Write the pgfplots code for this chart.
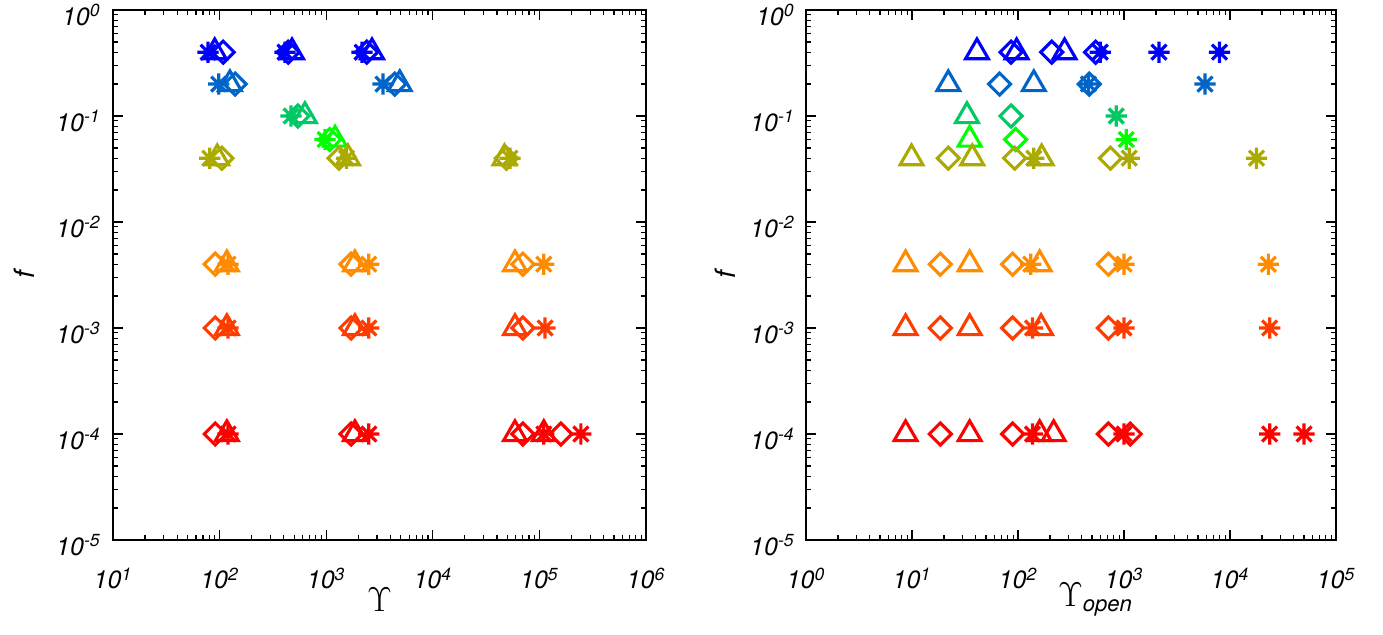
\documentclass[border=0pt]{standalone}
\usepackage{amsmath}
\usepackage{fontspec}
\setmainfont{TeX Gyre Heros}
\usepackage{pgfplots}
\pgfplotsset{compat=1.18}

\definecolor{c1}{RGB}{0,0,255}
\definecolor{c2}{RGB}{0,100,200}
\definecolor{c3}{RGB}{0,200,100}
\definecolor{c4}{RGB}{0,255,0}
\definecolor{c5}{RGB}{170,170,0}
\definecolor{c6}{RGB}{255,140,0}
\definecolor{c7}{RGB}{255,60,0}
\definecolor{c8}{RGB}{255,0,0}

\pgfdeclareplotmark{ast8}{%
  \pgfpathmoveto{\pgfqpoint{0pt}{\pgfplotmarksize}}%
  \pgfpathlineto{\pgfqpoint{0pt}{-\pgfplotmarksize}}%
  \pgfpathmoveto{\pgfqpoint{\pgfplotmarksize}{0pt}}%
  \pgfpathlineto{\pgfqpoint{-\pgfplotmarksize}{0pt}}%
  \pgfpathmoveto{\pgfqpoint{0.7071\pgfplotmarksize}{0.7071\pgfplotmarksize}}%
  \pgfpathlineto{\pgfqpoint{-0.7071\pgfplotmarksize}{-0.7071\pgfplotmarksize}}%
  \pgfpathmoveto{\pgfqpoint{0.7071\pgfplotmarksize}{-0.7071\pgfplotmarksize}}%
  \pgfpathlineto{\pgfqpoint{-0.7071\pgfplotmarksize}{0.7071\pgfplotmarksize}}%
  \pgfusepathqstroke}

\tikzset{
  tri/.style={color=#1, mark=triangle, mark size=6.6pt, mark options={solid, line width=1.55pt, fill=none}},
  dia/.style={color=#1, mark=square, mark size=3.9pt, mark options={solid, line width=1.55pt, rotate=45, fill=none}},
  ast/.style={color=#1, mark=ast8, mark size=5.3pt, mark options={solid, line width=1.6pt}},
}

\begin{document}
\begin{tikzpicture}
\path[use as bounding box] (-56.5pt,-47.5pt) rectangle (635pt,270pt);

\begin{axis}[
  xmode=log, ymode=log, scale only axis, width=266.5pt, height=265pt,
  ymin=1e-5, ymax=1,
  axis line style={line width=1pt},
  major tick length=5pt, minor tick length=2.5pt,
  every tick/.style={black, line width=0.6pt},
  tick label style={font=\fontsize{12.5}{15}\selectfont\itshape, inner sep=0pt},
  xticklabel style={anchor=base, yshift=-24.5pt},
  yticklabel style={anchor=east, xshift=-6pt, yshift=-2.5pt},
  ytick={1e-5,1e-4,1e-3,1e-2,1e-1,1},
  yticklabels={10\textsuperscript{-5},10\textsuperscript{-4},10\textsuperscript{-3},10\textsuperscript{-2},10\textsuperscript{-1},10\textsuperscript{0}},
  minor ytick={2e-5,3e-5,4e-5,5e-5,6e-5,7e-5,8e-5,9e-5,
               2e-4,3e-4,4e-4,5e-4,6e-4,7e-4,8e-4,9e-4,
               2e-3,3e-3,4e-3,5e-3,6e-3,7e-3,8e-3,9e-3,
               2e-2,3e-2,4e-2,5e-2,6e-2,7e-2,8e-2,9e-2,
               2e-1,3e-1,4e-1,5e-1,6e-1,7e-1,8e-1,9e-1},
  xmin=10, xmax=1e6,
  xtick={1e1,1e2,1e3,1e4,1e5,1e6},
  xticklabels={10\textsuperscript{1},10\textsuperscript{2},10\textsuperscript{3},10\textsuperscript{4},10\textsuperscript{5},10\textsuperscript{6}},
  minor xtick={2e1,3e1,4e1,5e1,6e1,7e1,8e1,9e1,
               2e2,3e2,4e2,5e2,6e2,7e2,8e2,9e2,
               2e3,3e3,4e3,5e3,6e3,7e3,8e3,9e3,
               2e4,3e4,4e4,5e4,6e4,7e4,8e4,9e4,
               2e5,3e5,4e5,5e5,6e5,7e5,8e5,9e5},
  xlabel={$\Upsilon$},
  xlabel style={at={(axis description cs:0.5,-0.112)}, anchor=center, font=\fontsize{17}{19}\selectfont},
  ylabel={\itshape f},
  ylabel style={at={(axis description cs:-0.167,0.5)}, anchor=center, font=\fontsize{14}{16}\selectfont},
]
% f = 0.4
\addplot[only marks, tri=c1] coordinates {(90,0.4) (478,0.4) (2690,0.4)};
\addplot[only marks, dia=c1] coordinates {(108,0.4) (440,0.4) (2400,0.4)};
\addplot[only marks, ast=c1] coordinates {(78,0.4) (411,0.4) (2170,0.4)};
% f = 0.2
\addplot[only marks, tri=c2] coordinates {(125,0.2) (4900,0.2)};
\addplot[only marks, dia=c2] coordinates {(140,0.2) (4400,0.2)};
\addplot[only marks, ast=c2] coordinates {(98,0.2) (3410,0.2)};
% f = 0.1
\addplot[only marks, tri=c3] coordinates {(632,0.1)};
\addplot[only marks, dia=c3] coordinates {(543,0.1)};
\addplot[only marks, ast=c3] coordinates {(468,0.1)};
% f = 0.06
\addplot[only marks, tri=c4] coordinates {(1211,0.06)};
\addplot[only marks, dia=c4] coordinates {(1080,0.06)};
\addplot[only marks, ast=c4] coordinates {(975,0.06)};
% f = 0.04
\addplot[only marks, tri=c5] coordinates {(95,0.04) (1600,0.04) (47000,0.04)};
\addplot[only marks, dia=c5] coordinates {(105,0.04) (1320,0.04) (49000,0.04)};
\addplot[only marks, ast=c5] coordinates {(81,0.04) (1550,0.04) (53000,0.04)};
% f = 0.004
\addplot[only marks, tri=c6] coordinates {(117,0.004) (1860,0.004) (59000,0.004)};
\addplot[only marks, dia=c6] coordinates {(91,0.004) (1710,0.004) (70000,0.004)};
\addplot[only marks, ast=c6] coordinates {(120,0.004) (2510,0.004) (110000,0.004)};
% f = 0.001
\addplot[only marks, tri=c7] coordinates {(117,0.001) (1860,0.001) (59000,0.001)};
\addplot[only marks, dia=c7] coordinates {(91,0.001) (1710,0.001) (70000,0.001)};
\addplot[only marks, ast=c7] coordinates {(120,0.001) (2510,0.001) (113000,0.001)};
% f = 0.0001
\addplot[only marks, tri=c8] coordinates {(117,0.0001) (1860,0.0001) (59000,0.0001) (110000,0.0001)};
\addplot[only marks, dia=c8] coordinates {(91,0.0001) (1710,0.0001) (70000,0.0001) (159000,0.0001)};
\addplot[only marks, ast=c8] coordinates {(120,0.0001) (2510,0.0001) (110000,0.0001) (245000,0.0001)};
\end{axis}

\begin{axis}[at={(346.5pt,0pt)},
  xmode=log, ymode=log, scale only axis, width=265pt, height=265pt,
  ymin=1e-5, ymax=1,
  axis line style={line width=1pt},
  major tick length=5pt, minor tick length=2.5pt,
  every tick/.style={black, line width=0.6pt},
  tick label style={font=\fontsize{12.5}{15}\selectfont\itshape, inner sep=0pt},
  xticklabel style={anchor=base, yshift=-24.5pt},
  yticklabel style={anchor=east, xshift=-5.5pt, yshift=-2.5pt},
  ytick={1e-5,1e-4,1e-3,1e-2,1e-1,1},
  yticklabels={10\textsuperscript{-5},10\textsuperscript{-4},10\textsuperscript{-3},10\textsuperscript{-2},10\textsuperscript{-1},10\textsuperscript{0}},
  minor ytick={2e-5,3e-5,4e-5,5e-5,6e-5,7e-5,8e-5,9e-5,
               2e-4,3e-4,4e-4,5e-4,6e-4,7e-4,8e-4,9e-4,
               2e-3,3e-3,4e-3,5e-3,6e-3,7e-3,8e-3,9e-3,
               2e-2,3e-2,4e-2,5e-2,6e-2,7e-2,8e-2,9e-2,
               2e-1,3e-1,4e-1,5e-1,6e-1,7e-1,8e-1,9e-1},
  xmin=1, xmax=1e5,
  xtick={1,1e1,1e2,1e3,1e4,1e5},
  xticklabels={10\textsuperscript{0},10\textsuperscript{1},10\textsuperscript{2},10\textsuperscript{3},10\textsuperscript{4},10\textsuperscript{5}},
  minor xtick={2,3,4,5,6,7,8,9,
               2e1,3e1,4e1,5e1,6e1,7e1,8e1,9e1,
               2e2,3e2,4e2,5e2,6e2,7e2,8e2,9e2,
               2e3,3e3,4e3,5e3,6e3,7e3,8e3,9e3,
               2e4,3e4,4e4,5e4,6e4,7e4,8e4,9e4},
  xlabel={$\Upsilon_{\makebox[0pt][l]{\fontsize{11}{13}\selectfont\itshape open}}$},
  xlabel style={at={(axis description cs:0.5,-0.112)}, anchor=center, font=\fontsize{17}{19}\selectfont},
  ylabel={\itshape f},
  ylabel style={at={(axis description cs:-0.152,0.5)}, anchor=center, font=\fontsize{14}{16}\selectfont},
]
% f = 0.4
\addplot[only marks, tri=c1] coordinates {(41,0.4) (97,0.4) (275,0.4)};
\addplot[only marks, dia=c1] coordinates {(86,0.4) (208,0.4) (540,0.4)};
\addplot[only marks, ast=c1] coordinates {(597,0.4) (2140,0.4) (7960,0.4)};
% f = 0.2
\addplot[only marks, tri=c2] coordinates {(22,0.2) (141,0.2)};
\addplot[only marks, dia=c2] coordinates {(67,0.2) (470,0.2)};
\addplot[only marks, ast=c2] coordinates {(461,0.2) (5800,0.2)};
% f = 0.1
\addplot[only marks, tri=c3] coordinates {(33,0.1)};
\addplot[only marks, dia=c3] coordinates {(86,0.1)};
\addplot[only marks, ast=c3] coordinates {(845,0.1)};
% f = 0.06
\addplot[only marks, tri=c4] coordinates {(35,0.06)};
\addplot[only marks, dia=c4] coordinates {(95,0.06)};
\addplot[only marks, ast=c4] coordinates {(1050,0.06)};
% f = 0.04
\addplot[only marks, tri=c5] coordinates {(9.9,0.04) (37,0.04) (167,0.04)};
\addplot[only marks, dia=c5] coordinates {(22,0.04) (93,0.04) (745,0.04)};
\addplot[only marks, ast=c5] coordinates {(141,0.04) (1120,0.04) (17800,0.04)};
% f = 0.004
\addplot[only marks, tri=c6] coordinates {(8.7,0.004) (35,0.004) (160,0.004)};
\addplot[only marks, dia=c6] coordinates {(18.5,0.004) (89,0.004) (713,0.004)};
\addplot[only marks, ast=c6] coordinates {(132,0.004) (1000,0.004) (23000,0.004)};
% f = 0.001
\addplot[only marks, tri=c7] coordinates {(8.7,0.001) (35,0.001) (165,0.001)};
\addplot[only marks, dia=c7] coordinates {(18.5,0.001) (89,0.001) (713,0.001)};
\addplot[only marks, ast=c7] coordinates {(137,0.001) (1000,0.001) (23700,0.001)};
% f = 0.0001
\addplot[only marks, tri=c8] coordinates {(8.7,0.0001) (35,0.0001) (160,0.0001) (217,0.0001)};
\addplot[only marks, dia=c8] coordinates {(18.5,0.0001) (89,0.0001) (713,0.0001) (1145,0.0001)};
\addplot[only marks, ast=c8] coordinates {(137,0.0001) (1000,0.0001) (23700,0.0001) (50000,0.0001)};
\end{axis}
\end{tikzpicture}
\end{document}
